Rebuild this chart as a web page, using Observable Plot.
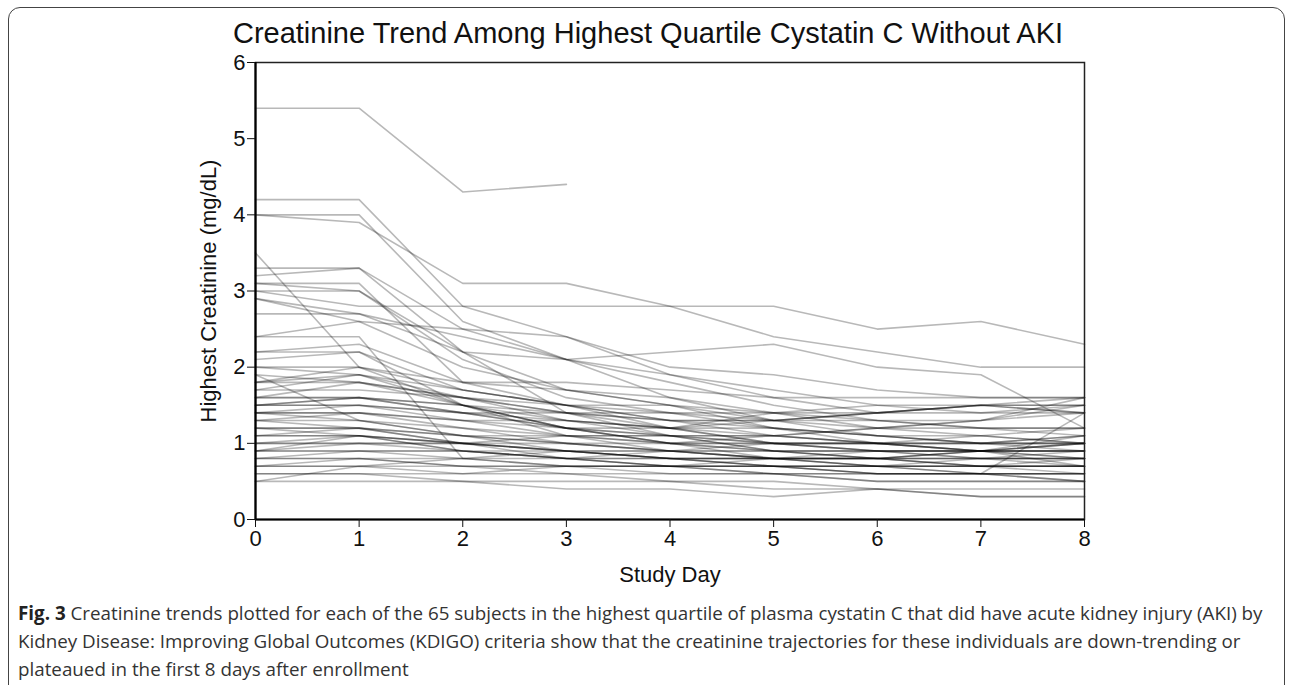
<!DOCTYPE html>
<html>
<head>
<meta charset="utf-8">
<script src="https://cdn.jsdelivr.net/npm/d3@7"></script>
<script src="https://cdn.jsdelivr.net/npm/@observablehq/plot@0.6"></script>
<style>
  html, body { margin: 0; padding: 0; background: #fff; }
  body { width: 1290px; height: 685px; position: relative; overflow: hidden; }
  #frame { position: absolute; left: 8px; top: 7px; width: 1277px; height: 720px;
           border: 1.5px solid #444; border-radius: 12px; box-sizing: border-box; }
  #title { position: absolute; left: 0; width: 1296px; top: 17px; text-align: center;
           font-family: "Liberation Sans", Arial, sans-serif; font-size: 29px; color: #111; }
  #chart { position: absolute; left: 0; top: 40px; }
  #caption { position: absolute; left: 18px; top: 599px; white-space: nowrap;
             font-family: "Open Sans", sans-serif; font-size: 18.8px; line-height: 28px; color: #333; }
  #caption b { color: #222; }
</style>
</head>
<body>
<div id="frame"></div>
<div id="title">Creatinine Trend Among Highest Quartile Cystatin C Without AKI</div>
<div id="chart"></div>
<div id="caption"><b>Fig. 3</b> Creatinine trends plotted for each of the 65 subjects in the highest quartile of plasma cystatin C that did have acute kidney injury (AKI) by<br>Kidney Disease: Improving Global Outcomes (KDIGO) criteria show that the creatinine trajectories for these individuals are down-trending or<br>plateaued in the first 8 days after enrollment</div>
<script>
const days = [0, 1, 2, 3, 4, 5, 6, 7, 8];
const xTicks = [0, 1, 2, 3, 4, 5, 6, 7, 8];
const yTicks = [0, 1, 2, 3, 4, 5, 6];

// creatinine (mg/dL) per subject, by study day 0..8 (shorter arrays = follow-up ended)
const subjects = [
  [5.4, 5.4, 4.3, 4.4],
  [4.0, 3.9, 3.1, 3.1, 2.8, 2.8, 2.5, 2.6, 2.3],
  [4.2, 4.2, 2.8, 2.4, 1.9, 1.6, 1.4, 1.5, 1.4],
  [4.0, 4.0, 2.6, 2.1, 1.8, 1.5, 1.3, 1.2, 1.2],
  [3.5, 2.0, 1.5, 1.1, 0.9, 0.8, 0.8, 0.9, 1.0],
  [3.3, 3.3, 2.2, 1.4, 1.1, 0.9, 0.8, 0.7, 0.7],
  [3.2, 3.3, 2.5, 2.1, 1.6, 1.3, 1.1, 1.0, 1.0],
  [3.1, 3.1, 1.8, 1.5, 1.2, 1.0, 0.9, 0.9, 0.8],
  [3.0, 2.8, 2.8, 2.8, 2.8, 2.4, 2.2, 2.0, 2.0],
  [3.0, 3.0, 2.2, 1.7, 1.5, 1.3, 1.2, 1.3, 1.5],
  [2.9, 2.7, 2.4, 2.1, 1.9, 1.7, 1.5, 1.4, 1.4],
  [2.7, 2.7, 2.2, 2.1, 2.2, 2.3, 2.0, 1.9, 1.2],
  [2.4, 2.6, 2.5, 2.4, 2.0, 1.9, 1.7, 1.6, 1.6],
  [2.4, 2.4, 0.8, 0.9, 0.8, 0.7, 0.6, 0.6, 0.5],
  [2.2, 2.3, 1.8, 1.7, 1.5, 1.4, 1.3, 1.2, 1.1],
  [2.1, 2.2, 1.7, 1.5, 1.3, 1.1, 1.0, 0.9, 0.9],
  [2.0, 2.0, 1.8, 1.8, 1.7, 1.6, 1.6, 1.6, 1.6],
  [1.9, 1.8, 1.6, 1.4, 1.3, 1.3, 1.4, 1.5, 1.5],
  [1.8, 2.0, 1.7, 1.5, 1.4, 1.4, 1.4, 1.5, 1.6],
  [1.8, 1.8, 1.5, 1.2, 1.0, 0.9, 0.9, 0.9, 1.0],
  [1.7, 1.9, 1.6, 1.3, 1.1, 1.0, 1.0, 1.1, 1.2],
  [1.6, 1.6, 1.5, 1.4, 1.4, 1.3, 1.4, 1.5, 1.4],
  [1.6, 1.6, 1.4, 1.2, 1.0, 0.8, 0.8, 0.8, 0.7],
  [1.5, 1.6, 1.5, 1.3, 1.2, 1.2, 1.1, 1.1, 1.0],
  [1.5, 1.5, 1.3, 1.1, 1.0, 1.0, 0.9, 0.9, 0.9],
  [1.4, 1.5, 1.4, 1.4, 1.3, 1.3, 1.3, 1.3, 1.4],
  [1.4, 1.4, 1.2, 1.0, 0.9, 0.8, 0.8, 0.7, 0.7],
  [1.4, 1.3, 1.1, 1.0, 1.0, 1.0, 1.0, 1.0, 1.0],
  [1.3, 1.3, 1.2, 1.1, 1.1, 1.1, 1.0, 0.9, 0.9],
  [1.3, 1.2, 1.0, 0.9, 0.8, 0.8, 0.7, 0.7, 0.6],
  [1.2, 1.2, 1.1, 1.0, 0.9, 0.9, 0.8, 0.8, 0.8],
  [1.2, 1.1, 0.9, 0.8, 0.7, 0.7, 0.6, 0.6, 0.6],
  [1.1, 1.1, 1.0, 0.9, 0.9, 0.8, 0.8, 0.9, 1.0],
  [1.1, 1.1, 1.0, 1.0, 0.9, 0.8, 0.7, 0.7, 0.7],
  [0.9, 1.1, 1.0, 0.9, 0.8, 0.8, 0.8, 0.9, 0.9],
  [1.0, 1.0, 0.9, 0.8, 0.7, 0.7, 0.7, 0.6, 0.6],
  [0.9, 0.9, 0.8, 0.7, 0.7, 0.6, 0.5, 0.5, 0.5],
  [0.9, 1.0, 1.0, 1.1, 1.1, 1.0, 1.0, 1.0, 1.1],
  [0.8, 0.9, 0.9, 0.8, 0.8, 0.7, 0.7, 0.7, 0.7],
  [0.8, 0.8, 0.8, 0.7, 0.7, 0.6, 0.6, 0.6, 0.6],
  [0.7, 0.7, 0.7, 0.6, 0.5, 0.5, 0.4, 0.4, 0.4],
  [0.7, 0.8, 0.7, 0.7, 0.7, 0.8, 0.8, 0.8, 0.8],
  [0.6, 0.6, 0.6, 0.6, 0.6, 0.6, 0.6, 0.6, 0.5],
  [0.5, 0.7, 0.6, 0.7, 0.7, 0.7, 0.7, 0.7, 0.7],
  [0.5, 0.5, 0.5, 0.5, 0.5, 0.4, 0.4, 0.3, 0.3],
  [0.6, 0.6, 0.5, 0.4, 0.4, 0.3, 0.4, 0.3, 0.3],
  [1.9, 1.3, 1.1, 0.9, 0.8, 0.8, 0.7, 0.6, 0.6],
  [2.0, 1.9, 1.5, 1.2, 1.1, 0.9, 0.8, 0.7, 0.8],
  [1.5, 1.6, 1.4, 1.2, 1.1, 1.1, 1.2, 1.3, 1.6],
  [1.2, 1.2, 1.0, 0.8, 0.7, 0.7, 0.6, 0.6, 1.4],
  [1.0, 1.0, 1.0, 0.9, 0.9, 0.9, 0.9, 0.9, 1.1],
  [0.8, 0.8, 0.7, 0.7, 0.6, 0.6, 0.5, 0.5, 0.5],
  [1.6, 1.8, 1.6, 1.5, 1.3, 1.2, 1.1, 1.0, 1.0],
  [1.7, 1.7, 1.6, 1.4, 1.2, 1.1, 1.0, 1.0, 0.9],
  [3.1, 3.0, 2.1, 1.6, 1.4, 1.2, 1.1, 1.0, 1.1],
  [2.2, 2.2, 1.5, 1.2, 1.0, 0.9, 0.9, 0.8, 0.8],
  [1.3, 1.4, 1.3, 1.2, 1.2, 1.3, 1.4, 1.4, 1.5],
  [1.1, 1.2, 1.1, 1.1, 1.0, 1.1, 1.2, 1.2, 1.2],
  [0.9, 0.9, 0.9, 0.8, 0.8, 0.8, 0.9, 0.9, 0.9],
  [1.8, 1.9, 1.7, 1.5, 1.5, 1.2, 1.0, 0.9, 0.7],
  [1.4, 1.4, 1.3, 1.3, 1.2, 1.0, 0.9, 0.8, 0.8],
  [1.0, 1.1, 0.9, 0.9, 0.8, 0.7, 0.7, 0.8, 0.9],
  [0.7, 0.7, 0.8, 0.8, 0.9, 1.0, 1.0, 0.9, 0.8],
  [2.9, 2.6, 2.0, 1.7, 1.6, 1.4, 1.2, 1.1, 1.0],
  [1.5, 1.5, 1.4, 1.3, 1.2, 1.4, 1.5, 1.5, 1.5]
];

const rows = subjects.flatMap((vals, i) =>
  vals.map((v, j) => ({id: i + 1, day: days[j], cr: v})));

const W = 1290, H = 560;
const chart = Plot.plot({
  width: W,
  height: H,
  marginTop: 22,
  marginBottom: 81,
  marginLeft: 255,
  marginRight: 206,
  style: {fontFamily: "Liberation Sans, Arial, sans-serif", fontSize: "22px", color: "#111", background: "transparent"},
  x: {domain: [0, 8], label: null},
  y: {domain: [0, 6], label: null},
  marks: [
    Plot.line(rows, {x: "day", y: "cr", z: "id", stroke: "#000", strokeOpacity: 0.28, strokeWidth: 1.6}),
    Plot.frame({stroke: "#222", strokeWidth: 1.5}),
    Plot.ruleX([0], {stroke: "#000", strokeWidth: 2.2}),
    Plot.ruleY([0], {stroke: "#000", strokeWidth: 2.2}),
    Plot.axisX({ticks: xTicks, tickFormat: d3.format("d"), tickSize: 8, tickPadding: 3, fontSize: 22, fill: "#111", label: null}),
    Plot.axisY({ticks: yTicks, tickFormat: d3.format("d"), tickSize: 8, tickPadding: 2, fontSize: 22, fill: "#111", label: null}),
    Plot.text(["Study Day"], {frameAnchor: "bottom", dy: 62, fontSize: 22, fill: "#111", textAnchor: "middle"}),
    Plot.text(["Highest Creatinine (mg/dL)"], {frameAnchor: "left", dx: -47, rotate: -90, fontSize: 22, fill: "#111", textAnchor: "middle"})
  ]
});
document.getElementById("chart").appendChild(chart);
</script>
</body>
</html>
